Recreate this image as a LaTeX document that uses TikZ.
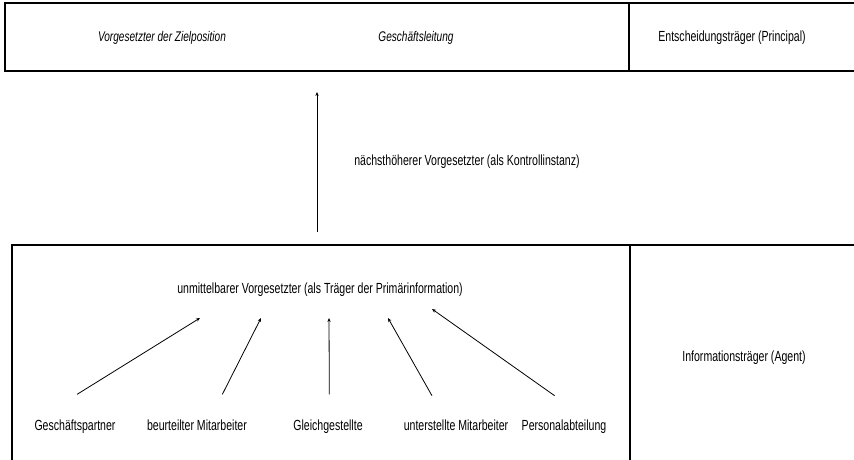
\documentclass[tikz,border=0pt]{standalone}
\usepackage{fontspec}
\setmainfont{Liberation Sans}[FakeStretch=0.72]
\usetikzlibrary{arrows.meta,positioning,calc}
\tikzset{
  >={Stealth[length=3pt,width=2.5pt]},
  rahmen/.style={draw=black,line width=.8pt},
  txt/.style={font=\fontsize{11}{13}\selectfont,inner sep=1pt,text height=8pt,text depth=2.5pt},
  ktxt/.style={txt,font=\fontsize{10.5}{13}\selectfont\itshape},
  pfeil/.style={->,line width=.6pt,draw=black}
}

\begin{document}
\begin{tikzpicture}[x=0.75pt,y=-0.75pt]
  \useasboundingbox (0,0) rectangle (854,460);
  % Rahmen
  \draw[rahmen] (860,3) -- (5,3) -- (5,71) -- (860,71);
  \draw[rahmen] (629,3) -- (629,71);
  \draw[rahmen] (860,245) -- (12,245) -- (12,465);
  \draw[rahmen] (630,245) -- (630,465);
  % obere Ebene
  \node[ktxt] (zv) at (162,38) {Vorgesetzter der Zielposition};
  \node[ktxt] (gl) at (416,38) {Geschäftsleitung};
  \node[txt] (ent) at (732,38) {Entscheidungsträger (Principal)};
  \node[txt] (nv) at (467,162) {nächsthöherer Vorgesetzter (als Kontrollinstanz)};
  % untere Ebene
  \node[txt] (uv) at (320,290) {unmittelbarer Vorgesetzter (als Träger der Primärinformation)};
  \node[txt] (ag) at (744,358) {Informationsträger (Agent)};
  \node[txt] (gp) at (75,427) {Geschäftspartner};
  \node[txt] (bm) at (197,427) {beurteilter Mitarbeiter};
  \node[txt] (gg) at (328,427) {Gleichgestellte};
  \node[txt] (um) at (456,427) {unterstellte Mitarbeiter};
  \node[txt] (pa) at (564,427) {Personalabteilung};
  % Verbindungen
  \coordinate (kf) at (317,232);
  \coordinate (kk) at (317,92);
  \draw[pfeil] (kf) -- (kk);
  \coordinate (e1) at (200,318);
  \coordinate (e2) at (261,318);
  \coordinate (e3) at (329,318);
  \coordinate (e4) at (388,318);
  \coordinate (e5) at (432,309);
  \draw[pfeil] ([xshift=1.5pt,yshift=18pt]gp.north) -- (e1);
  \draw[pfeil] ([xshift=19pt,yshift=18pt]bm.north) -- (e2);
  \draw[pfeil] ([xshift=1pt,yshift=18pt]gg.north) -- (e3);
  \draw[pfeil] ([xshift=-18pt,yshift=17pt]um.north) -- (e4);
  \draw[pfeil] ([xshift=-7pt,yshift=17pt]pa.north) -- (e5);
\end{tikzpicture}
\end{document}
